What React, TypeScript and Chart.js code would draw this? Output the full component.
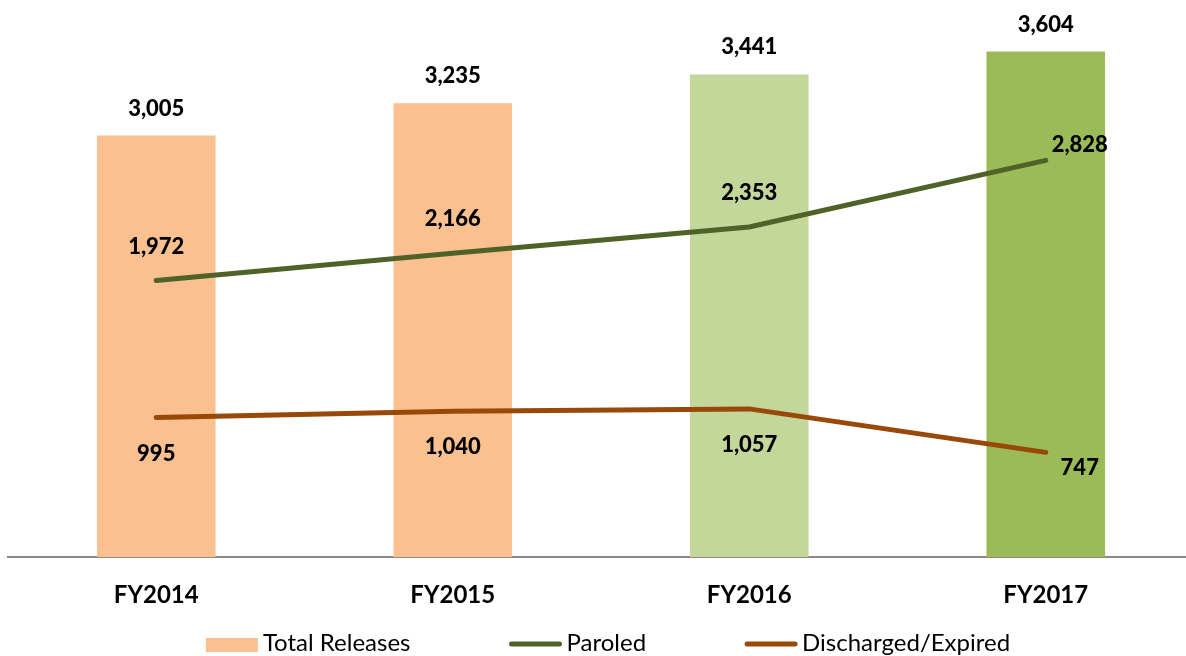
import React, { useEffect, useRef } from "react";
import { Chart, registerables } from "chart.js";

Chart.register(...registerables);

const categories = ["FY2014", "FY2015", "FY2016", "FY2017"];
const totalReleases = [3005, 3235, 3441, 3604];
const paroled = [1972, 2166, 2353, 2828];
const discharged = [995, 1040, 1057, 747];
const barColors = ["#FAC090", "#FAC090", "#C4D79B", "#9BBB59"];
const paroledColor = "#4F6228";
const dischargedColor = "#984807";

const fmt = (v: number) => v.toLocaleString("en-US");

const labelPlugin = {
  id: "valueLabels",
  afterDatasetsDraw(chart: any) {
    const ctx = chart.ctx;
    ctx.save();
    ctx.font = "900 22px Lato";
    ctx.fillStyle = "#000000";
    ctx.textAlign = "center";
    ctx.textBaseline = "middle";
    chart.data.datasets.forEach((ds: any, di: number) => {
      const meta = chart.getDatasetMeta(di);
      const n = meta.data.length;
      meta.data.forEach((el: any, i: number) => {
        const v = ds.data[i];
        let x = el.x;
        let y = el.y;
        if (ds.type === "bar") {
          y -= 27;
        } else if (di === 1) {
          if (i === n - 1) { x += 34; y -= 16; } else { y -= 34; }
        } else {
          if (i === n - 1) { x += 34; y += 16; } else { y += 36; }
        }
        ctx.fillText(fmt(v), x, y);
      });
    });
    ctx.restore();
  },
};

const legendPlugin = {
  id: "customLegend",
  afterDraw(chart: any) {
    const ctx = chart.ctx;
    const area = chart.chartArea;
    ctx.save();
    ctx.font = "400 24px Lato";
    ctx.textBaseline = "alphabetic";
    ctx.textAlign = "left";
    const symW = 52;
    const gapText = 5;
    const gapItem = 99;
    const items = chart.data.datasets.map((ds: any) => ({
      label: ds.label,
      type: ds.type,
      color: ds.type === "bar" ? barColors[0] : ds.borderColor,
      w: symW + gapText + ctx.measureText(ds.label).width,
    }));
    const total = items.reduce((s: number, it: any) => s + it.w, 0) + gapItem * (items.length - 1);
    let x = (area.left + area.right) / 2 + 7 - total / 2;
    const yMid = 644;
    items.forEach((it: any) => {
      if (it.type === "bar") {
        ctx.fillStyle = it.color;
        ctx.fillRect(x, yMid - 6, symW, 14);
      } else {
        ctx.strokeStyle = it.color;
        ctx.lineWidth = 5;
        ctx.lineCap = "round";
        ctx.beginPath();
        ctx.moveTo(x + 2, yMid);
        ctx.lineTo(x + symW - 2, yMid);
        ctx.stroke();
      }
      ctx.fillStyle = "#000000";
      ctx.fillText(it.label, x + symW + gapText, 651);
      x += it.w + gapItem;
    });
    ctx.restore();
  },
};

export default function App() {
  const ref = useRef<HTMLCanvasElement | null>(null);
  useEffect(() => {
    if (!ref.current) return;
    const chart = new Chart(ref.current, {
      type: "bar",
      data: {
        labels: categories,
        datasets: [
          {
            type: "bar",
            label: "Total Releases",
            data: totalReleases,
            backgroundColor: barColors,
            borderWidth: 0,
            barPercentage: 0.4,
            categoryPercentage: 1,
            order: 2,
          } as any,
          {
            type: "line",
            label: "Paroled",
            data: paroled,
            borderColor: paroledColor,
            backgroundColor: paroledColor,
            borderWidth: 5,
            borderCapStyle: "round",
            pointRadius: 0,
            tension: 0,
            order: 0,
          },
          {
            type: "line",
            label: "Discharged/Expired",
            data: discharged,
            borderColor: dischargedColor,
            backgroundColor: dischargedColor,
            borderWidth: 5,
            borderCapStyle: "round",
            pointRadius: 0,
            tension: 0,
            order: 1,
          },
        ],
      },
      options: {
        animation: false,
        responsive: true,
        maintainAspectRatio: false,
        layout: { padding: { left: 8, top: 10, right: 0, bottom: 22 } },
        scales: {
          x: {
            grid: { display: false, drawTicks: false },
            border: { display: true, color: "#898989", width: 2 },
            ticks: {
              color: "#000000",
              font: { family: "Lato", size: 24, weight: "bold" },
              padding: 24,
            },
          },
          y: {
            display: false,
            min: 0,
            max: 3900,
          },
        },
        plugins: {
          tooltip: { enabled: false },
          legend: { display: false },
        },
      },
      plugins: [labelPlugin, legendPlugin],
    });
    return () => chart.destroy();
  }, []);
  return (
    <div style={{ position: "fixed", left: 0, top: 0, width: 1186, height: 656, overflow: "hidden", background: "#fff" }}>
      <div style={{ position: "absolute", left: 0, top: 0, width: 1194, height: 656 }}>
        <canvas ref={ref} />
      </div>
    </div>
  );
}
